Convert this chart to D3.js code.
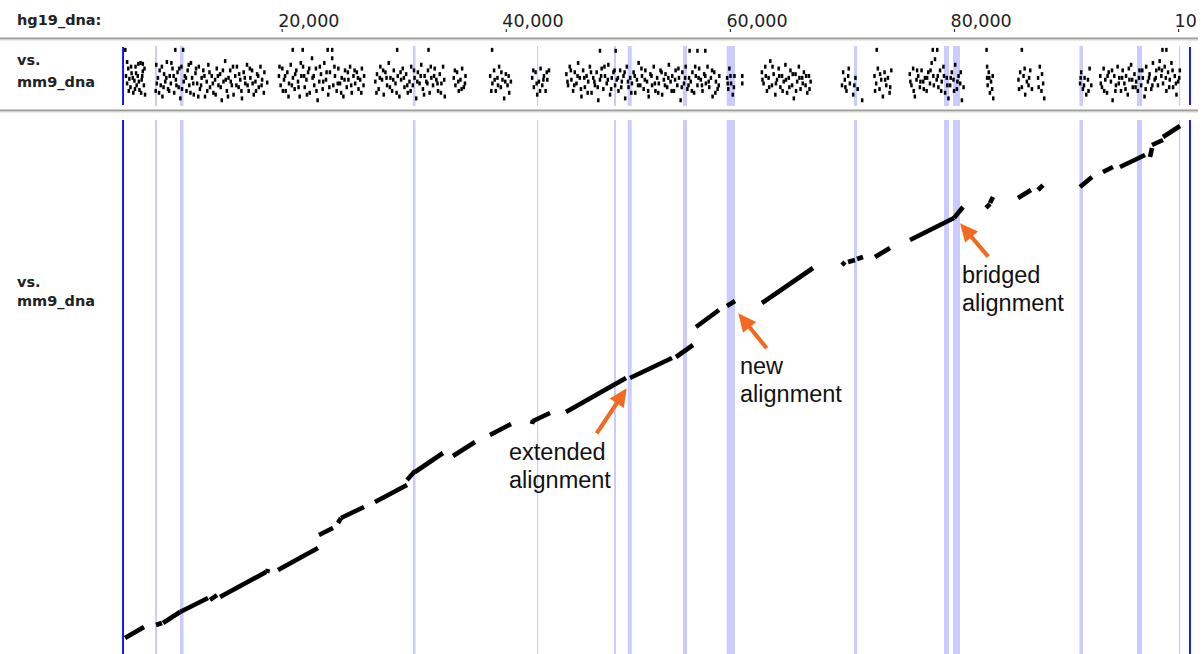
<!DOCTYPE html>
<html>
<head>
<meta charset="utf-8">
<script src="https://cdn.jsdelivr.net/npm/d3@7"></script>
<style>
  body { margin: 0; background: #fff; }
  svg { display: block; }
</style>
</head>
<body>
<svg id="chart" width="1203" height="654"></svg>
<script>
// hg19 window shown (bp) and ruler ticks
const seqRange = [5840, 101060];
const xTicks = [20000, 40000, 60000, 80000, 100000];

// highlighted hg19 intervals (bp)
const highlights = [
  [8692, 8871], [10924, 11236], [31718, 31941], [42784, 42891],
  [49656, 49834], [50879, 51236], [55814, 56171], [59714, 60455],
  [71075, 71342], [79107, 79553], [79910, 80535], [91199, 91512],
  [96331, 96777], [100080, 100187]
];

// aligned blocks: hg19 start, mm9 start, hg19 end, mm9 end (bp)
const segments = [
  [6015, 1438, 7711, 2427], [8782, 2607, 9317, 2787], [9407, 2787, 10924, 3775],
  [10924, 3775, 13423, 5034], [13601, 4854, 14226, 5303], [14493, 5124, 18599, 7371],
  [18688, 7281, 18777, 7640], [19670, 7551, 23239, 9528], [23329, 10697, 24578, 11326],
  [25024, 11775, 25292, 12225], [25292, 12225, 27345, 13214], [28326, 13663, 31182, 15191],
  [31182, 15641, 31896, 16450], [31896, 16360, 34395, 18067], [35287, 17798, 37251, 19056],
  [38590, 19685, 40464, 20674], [42338, 20674, 42427, 21034], [42427, 20944, 43944, 21663],
  [45372, 21753, 50727, 24809], [51084, 24809, 54832, 26607], [55189, 26697, 56706, 27775],
  [56974, 29393, 59027, 30921], [59740, 31281, 60455, 31730], [62864, 31551, 67416, 34697],
  [70004, 34966, 70271, 35236], [70539, 35236, 71164, 35416], [71342, 35506, 71878, 35686],
  [72949, 35686, 74288, 36495], [76072, 37214, 80000, 39191], [80000, 39191, 80803, 40180],
  [82855, 40090, 83212, 40450], [83212, 40539, 83480, 41079], [85711, 40989, 86871, 41708],
  [87496, 41708, 87942, 42157], [91244, 41978, 92315, 42877], [93297, 43326, 94189, 43775],
  [94814, 43775, 97045, 44854], [97491, 44674, 97670, 45483], [97670, 45753, 98652, 46202],
  [98652, 46472, 100169, 47461]
];

// word hits in the overview track: hg19 position (kb), offset level
const topDots = [
  [6.04,58],[6.1,30],[6.2,22],[6.3,38],[6.4,27],[6.5,18],[6.6,33],[6.75,12],[6.85,25],[6.95,40],[7.05,20],[7.15,30],[7.2,43],[7.3,15],[7.4,44],[7.5,26],[7.6,43],[7.6,35],[7.7,20],[7.8,10],
  [8.75,14],[8.8,42],[8.95,28],[9.1,36],[9.2,20],[9.35,8],[9.5,32],[9.6,24],[9.75,45],[9.85,16],[10.0,30],[10.1,22],[10.25,38],[10.4,12],[10.5,58],[10.55,26],[10.7,34],[10.8,18],[10.95,6],[11.05,40],[11.2,58],[11.25,24],[11.35,30],[11.5,14],[11.6,36],[11.75,20],[11.9,44],[12.0,28],[12.15,10],[12.3,33],[12.45,22],[12.6,40],[12.7,16],[12.85,28],[13.0,36],[13.15,8],[13.3,24],[13.45,42],[13.6,18],[13.75,30],[13.9,12],[14.05,26],[14.2,38],[14.35,20],[14.5,32],[14.65,4],[14.8,24],[14.95,46],[15.1,14],[15.25,28],[15.4,36],[15.55,20],[15.7,10],[15.85,30],[16.0,40],[16.15,18],[16.3,26],[16.45,6],[16.6,34],[16.75,22],[16.9,42],[17.05,14],[17.2,28],[17.35,36],[17.5,10],[17.65,24],[17.8,32],[17.95,18],[18.1,40],[18.25,26],[18.4,12],[18.7,23],
  [19.75,30],[19.9,20],[20.05,38],[20.2,26],[20.35,14],[20.5,34],[20.65,22],[20.8,42],[20.98,58],[21.0,28],[21.15,16],[21.3,36],[21.45,24],[21.6,8],[21.75,30],[21.87,58],[21.9,40],[22.05,18],[22.2,26],[22.35,34],[22.5,12],[22.7,49],[22.75,28],[22.9,20],[23.05,38],[23.2,4],[23.35,24],[23.5,32],[23.65,16],[23.8,44],[23.95,26],[24.1,58],[24.15,10],[24.3,34],[24.5,58],[24.5,49],[24.6,20],[24.75,30],[24.9,14],[25.05,38],[25.2,22],[25.35,28],[25.5,8],[25.65,36],[25.8,18],[25.95,26],[26.1,40],[26.25,12],[26.4,30],[26.55,22],[26.7,34],[26.85,16],[27.0,26],[27.15,38],[27.3,20],
  [28.35,24],[28.5,32],[28.65,16],[28.8,40],[28.95,26],[29.1,10],[29.25,34],[29.4,20],[29.55,44],[29.7,28],[29.85,14],[30.0,36],[30.15,22],[30.3,58],[30.35,30],[30.5,8],[30.65,26],[30.8,38],[30.95,18],[31.1,32],[31.25,12],[31.4,24],[31.55,40],[31.7,20],[31.85,28],[32.0,6],[32.15,34],[32.3,22],[32.45,42],[32.6,16],[32.75,30],[32.9,24],[33.1,58],[33.05,36],[33.2,12],[33.35,28],[33.5,20],[33.65,38],[33.8,26],[33.95,14],[34.1,32],[34.25,22],[34.4,40],[34.55,8],[35.35,28],[35.5,20],[35.65,34],[35.8,14],[35.95,26],[36.1,38],[36.25,18],[36.4,30],
  [38.6,30],[38.77,58],[38.8,22],[38.95,36],[39.1,14],[39.25,28],[39.4,40],[39.55,18],[39.7,26],[39.85,6],[40.0,32],[40.15,20],[40.3,12],[40.45,24],
  [42.35,28],[42.5,18],[42.65,34],[42.8,10],[42.95,24],[43.1,38],[43.25,20],[43.4,30],[43.55,14],[43.7,26],[43.85,36],
  [45.4,32],[45.55,20],[45.7,40],[45.85,26],[46.0,14],[46.15,34],[46.3,22],[46.45,44],[46.6,28],[46.75,8],[46.9,36],[47.05,18],[47.2,30],[47.35,24],[47.5,40],[47.65,12],[47.8,28],[47.95,20],[48.1,34],[48.25,4],[48.4,57],[48.4,26],[48.55,38],[48.7,16],[48.85,30],[49.0,22],[49.15,42],[49.3,10],[49.45,28],[49.6,34],[49.8,57],[49.75,20],[49.9,26],[50.05,14],[50.2,36],[50.35,24],[50.5,30],[50.65,6],[50.8,40],[50.95,18],[51.1,28],[51.25,22],[51.4,34],[51.55,12],[51.7,26],[51.85,44],[52.0,20],[52.15,30],[52.3,16],[52.45,36],[52.6,24],[52.75,8],[52.9,32],[53.05,20],[53.2,40],[53.35,14],[53.5,28],[53.65,22],[53.8,36],[53.95,10],[54.1,26],[54.25,32],[54.4,18],[54.55,42],[54.7,24],[54.85,30],[55.0,14],[55.15,36],[55.3,20],[55.45,28],[55.6,4],[55.75,34],[55.9,22],[56.05,40],[56.2,16],[56.4,57],[56.35,28],[56.5,24],[56.65,34],[56.8,12],[56.95,30],[57.1,57],[57.1,20],[57.25,38],[57.4,26],[57.55,14],[57.7,32],[57.8,57],[57.85,22],[58.0,40],[58.15,18],[58.3,28],[58.45,8],[58.6,34],[58.75,24],[58.9,16],[59.05,30],[59.75,28],[59.85,16],[59.95,38],[60.1,22],[60.25,10],[60.4,30],[61.1,30],[61.1,22],
  [62.85,34],[63.0,22],[63.15,40],[63.3,14],[63.45,28],[63.6,46],[63.75,20],[63.9,32],[64.05,10],[64.2,26],[64.35,38],[64.5,18],[64.65,30],[64.8,24],[64.95,42],[65.1,12],[65.25,28],[65.4,36],[65.55,20],[65.7,6],[65.85,32],[66.0,24],[66.15,40],[66.3,16],[66.45,28],[66.6,34],[66.75,20],[66.9,12],[67.05,30],[67.2,24],
  [70.0,20],[70.1,34],[70.25,26],[70.4,14],[70.55,30],[70.7,22],[71.0,10],[71.2,28],[71.4,16],[71.8,4],
  [72.9,30],[73.1,58],[73.05,22],[73.2,38],[73.35,16],[73.5,26],[73.65,8],[73.8,34],[73.95,20],[74.1,28],[74.25,12],[74.4,36],
  [76.05,32],[76.2,20],[76.35,38],[76.5,8],[76.65,26],[76.8,30],[76.95,18],[77.1,36],[77.25,24],[77.4,28],[77.55,14],[77.7,34],[77.85,22],[78.0,44],[78.1,58],[78.15,30],[78.3,48],[78.45,26],[78.5,58],[78.6,18],[78.75,36],[78.9,24],[79.05,40],[79.2,12],[79.35,28],[79.5,6],[79.65,20],[79.8,34],[79.95,26],[80.1,42],[80.25,16],[80.4,30],[80.55,22],[80.7,4],[80.85,18],
  [82.9,58],[82.95,28],[83.0,20],[83.1,34],[83.2,12],[83.3,24],[83.4,16],[83.5,6],
  [85.75,26],[86.05,58],[85.9,34],[86.05,18],[86.2,30],[86.35,10],[86.5,24],[86.65,20],[86.8,36],[86.95,16],[87.5,28],[87.65,40],[87.8,14],[87.95,22],[88.05,6],
  [91.25,22],[91.35,34],[91.5,16],[91.65,28],[91.8,10],[91.95,26],[92.1,38],[92.25,20],
  [93.05,30],[93.2,18],[93.35,38],[93.5,26],[93.65,12],[93.8,34],[94.0,24],[94.15,4],[94.3,30],[94.45,20],[94.6,40],[94.75,28],[94.9,14],[95.05,36],[95.2,22],[95.35,30],[95.5,10],[95.65,26],[95.8,42],[95.95,18],[96.1,32],[96.25,24],[96.4,14],[96.55,36],[96.7,20],[96.85,28],[97.0,8],[97.15,40],[97.3,24],[97.45,32],[97.6,16],[97.75,44],[97.9,26],[98.05,36],[98.2,20],[98.35,46],[98.5,30],[98.6,58],[98.65,22],[98.8,40],[98.95,58],[98.95,14],[99.1,34],[99.25,26],[99.4,44],[99.55,18],[99.7,30],[99.85,10],[100.0,24],[100.15,36]
];

// further hits on the reverse pass (kb, offset level)
const topDotsB = [
  [6.2,45],[6.35,14],[6.55,40],[6.7,28],[6.9,16],[7.0,33],[7.25,24],[7.45,12],[7.55,30],[7.75,38],
  [8.85,22],[9.05,12],[9.3,40],[9.45,18],[9.7,28],[9.95,14],[10.15,44],[10.35,30],[10.6,20],[10.85,38],[11.1,16],[11.45,28],[11.7,42],[11.85,12],[12.1,22],[12.35,38],[12.55,8],[12.8,20],[13.1,30],[13.35,14],[13.55,34],[13.85,22],[14.1,10],[14.3,30],[14.55,18],[14.75,36],[15.0,26],[15.2,8],[15.45,24],[15.65,40],[15.95,20],[16.2,32],[16.4,14],[16.7,28],[16.95,20],[17.15,38],[17.4,22],[17.7,14],[17.9,30],[18.2,20],[18.45,34],
  [19.8,40],[20.1,14],[20.3,30],[20.6,8],[20.9,20],[21.2,32],[21.5,18],[21.7,44],[22.0,30],[22.25,10],[22.45,38],[22.85,30],[23.1,14],[23.4,40],[23.7,24],[24.0,34],[24.25,18],[24.7,40],[25.0,22],[25.3,12],[25.6,26],[25.9,34],[26.2,20],[26.5,36],[26.8,28],[27.1,12],[27.35,30],
  [28.45,12],[28.75,28],[29.05,36],[29.35,28],[29.65,18],[29.95,26],[30.25,12],[30.6,34],[30.9,28],[31.2,20],[31.5,14],[31.8,36],[32.1,24],[32.4,30],[32.7,10],[33.0,22],[33.3,40],[33.6,30],[33.9,22],[34.2,12],[34.5,26],[35.45,36],[35.75,24],[36.05,16],[36.35,22],
  [38.7,14],[39.0,26],[39.3,20],[39.6,34],[39.95,24],[40.25,30],
  [42.45,36],[42.75,22],[43.05,14],[43.35,26],[43.65,34],
  [45.5,24],[45.8,36],[46.1,20],[46.4,30],[46.7,16],[47.0,28],[47.3,12],[47.6,34],[47.9,24],[48.2,18],[48.5,30],[48.8,40],[49.1,26],[49.4,16],[49.7,36],[50.0,28],[50.3,18],[50.6,34],[50.9,24],[51.2,12],[51.5,30],[51.8,20],[52.1,38],[52.4,26],[52.7,14],[53.0,30],[53.3,22],[53.6,12],[53.9,34],[54.2,20],[54.5,28],[54.8,14],[55.1,26],[55.4,38],[55.7,18],[56.0,28],[56.3,20],[56.6,14],[56.9,40],[57.2,28],[57.5,20],[57.8,30],[58.1,24],[58.4,36],[58.7,12],[59.0,20],[59.8,22],[60.05,30],[60.35,18],
  [62.9,26],[63.2,30],[63.5,18],[63.8,40],[64.1,22],[64.4,30],[64.7,14],[65.0,26],[65.3,18],[65.6,32],[65.9,14],[66.2,28],[66.5,22],[66.8,30],[67.1,16],
  [70.3,18],[70.6,38],[71.1,20],[72.95,14],[73.4,32],[73.85,26],[74.3,18],
  [76.1,24],[76.4,14],[76.7,36],[77.0,24],[77.3,16],[77.6,28],[77.9,36],[78.2,20],[78.55,30],[78.85,14],[79.1,30],[79.4,20],[79.7,28],[80.0,14],[80.3,24],[80.6,34],
  [82.95,40],[83.15,28],[83.45,30],[85.8,16],[86.3,38],[86.7,28],[87.55,18],[87.85,32],[91.3,28],[91.6,20],[92.0,14],
  [93.1,22],[93.4,14],[93.7,30],[94.1,36],[94.4,14],[94.7,22],[95.0,28],[95.3,16],[95.6,38],[95.9,26],[96.2,18],[96.5,28],[96.8,36],[97.1,16],[97.4,28],[97.7,20],[98.0,28],[98.3,38],[98.55,36],[98.9,28],[99.2,18],[99.5,36],[99.8,22],[100.1,28]
];

// callouts: arrow tip and tail, label anchor (hg19 bp, mm9 bp)
const notes = [
  { lines: ["extended", "alignment"], tip: [50790, 23883], tail: [48112, 19838], label: [40285, 17438] },
  { lines: ["new", "alignment"],      tip: [60749, 30625], tail: [63284, 27479], label: [60901, 25169] },
  { lines: ["bridged", "alignment"],  tip: [80535, 38715], tail: [83060, 35713], label: [80713, 33348] }
];

const trackNames = ["vs.", "mm9_dna"];

const svg = d3.select("#chart");

const x = d3.scaleLinear().domain([0, 100000]).range([57.6, 1178.1]);
const yMain = d3.scaleLinear().domain([0, 48000]).range([654, 120]);
const yTop = d3.scaleLinear().domain([0, 60]).range([102, 46]);

const topBand = [46, 106];
const mainBand = [120, 654];

// header ruler
svg.append("text")
  .attr("x", 17).attr("y", 25)
  .attr("font-family", "DejaVu Sans").attr("font-weight", "bold").attr("font-size", 14.5)
  .attr("fill", "#222")
  .text("hg19_dna:");

svg.append("clipPath").attr("id", "hdrClip")
  .append("rect").attr("x", 0).attr("y", 0).attr("width", 1196).attr("height", 36);

const axis = d3.axisTop(x)
  .tickValues(xTicks)
  .tickSize(3)
  .tickPadding(2.5)
  .tickFormat(d3.format(","));

const axWrap = svg.append("g").attr("clip-path", "url(#hdrClip)");
const ax = axWrap.append("g")
  .attr("transform", "translate(0,32)")
  .call(axis);
ax.select(".domain").remove();
ax.selectAll(".tick line").attr("stroke", "#333").attr("stroke-width", 1.2);
ax.selectAll(".tick text")
  .attr("text-anchor", "start")
  .attr("x", -4)
  .attr("font-family", "DejaVu Sans")
  .attr("font-size", 17.5)
  .attr("fill", "#222");

// separators
function separator(y) {
  svg.append("rect").attr("x", 0).attr("y", y).attr("width", 1198).attr("height", 2).attr("fill", "#9c9c9c");
  svg.append("rect").attr("x", 0).attr("y", y + 2).attr("width", 1198).attr("height", 1).attr("fill", "#d6d6d6");
}
separator(37.5);
separator(109.5);

// track labels
function trackLabel(y0, gap) {
  svg.append("g").selectAll("text").data(trackNames).join("text")
    .attr("x", 17)
    .attr("y", (d, i) => y0 + i * gap)
    .attr("font-family", "DejaVu Sans").attr("font-weight", "bold").attr("font-size", 14.5)
    .attr("fill", "#222")
    .text(d => d);
}
trackLabel(65, 22);
trackLabel(287, 19);

// highlight columns in both tracks
function columns(band) {
  svg.append("g").selectAll("rect").data(highlights).join("rect")
    .attr("x", d => x(d[0]))
    .attr("width", d => Math.max(1, x(d[1]) - x(d[0])))
    .attr("y", band[0])
    .attr("height", band[1] - band[0])
    .attr("fill", "#cbcbff");
}
columns(topBand);
columns(mainBand);

// sequence bounds
function bounds(band) {
  svg.append("g").selectAll("line").data(seqRange).join("line")
    .attr("x1", d => x(d)).attr("x2", d => x(d))
    .attr("y1", band[0]).attr("y2", band[1])
    .attr("stroke", "#0000ff").attr("stroke-width", 1.8);
}
bounds([47, 105]);
bounds(mainBand);

// overview hits
svg.append("g").selectAll("rect").data(topDots.concat(topDotsB)).join("rect")
  .attr("x", d => x(d[0] * 1000) - 1.2)
  .attr("y", d => yTop(d[1]))
  .attr("width", 2.5)
  .attr("height", 4)
  .attr("fill", "#000");

// dot-plot blocks
svg.append("g").selectAll("line").data(segments).join("line")
  .attr("x1", d => x(d[0])).attr("y1", d => yMain(d[1]))
  .attr("x2", d => x(d[2])).attr("y2", d => yMain(d[3]))
  .attr("stroke", "#000")
  .attr("stroke-width", 4.6)
  .attr("stroke-linecap", "butt");

// callouts
const orange = "#f26a21";
const ng = svg.append("g");
notes.forEach(n => {
  const tx = x(n.tip[0]), ty = yMain(n.tip[1]);
  const sx = x(n.tail[0]), sy = yMain(n.tail[1]);
  const dx = tx - sx, dy = ty - sy, len = Math.hypot(dx, dy);
  const ux = dx / len, uy = dy / len;
  const headL = 18, headW = 8.5;
  const bx = tx - ux * headL, by = ty - uy * headL;
  ng.append("line")
    .attr("x1", sx).attr("y1", sy).attr("x2", bx + ux * 2).attr("y2", by + uy * 2)
    .attr("stroke", orange).attr("stroke-width", 4.2);
  ng.append("path")
    .attr("d", `M${tx},${ty}L${bx - uy * headW},${by + ux * headW}L${bx + uy * headW},${by - ux * headW}Z`)
    .attr("fill", orange);
  ng.append("g").selectAll("text").data(n.lines).join("text")
    .attr("x", x(n.label[0]))
    .attr("y", (d, i) => yMain(n.label[1]) + i * 28)
    .attr("font-family", "Liberation Sans, Arial, sans-serif")
    .attr("font-size", 23.5)
    .attr("fill", "#111")
    .text(d => d);
});
</script>
</body>
</html>
